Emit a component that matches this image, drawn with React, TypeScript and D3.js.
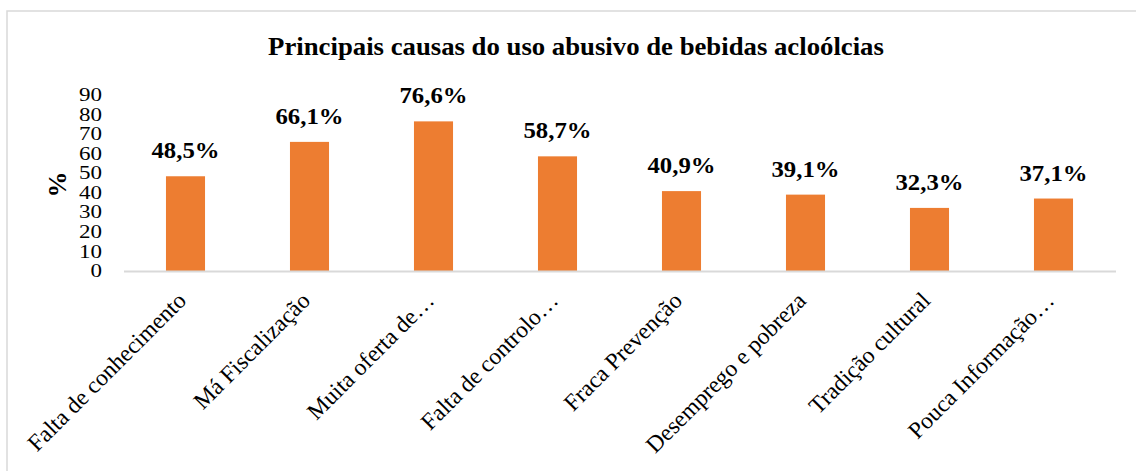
import React, { useRef, useEffect } from 'react';
import * as d3 from 'd3';

// categorias e valores (%)
const categories = [
    'Falta de conhecimento',
    'Má Fiscalização',
    'Muita oferta de…',
    'Falta de controlo…',
    'Fraca Prevenção',
    'Desemprego e pobreza',
    'Tradição cultural',
    'Pouca Informação…',
];
const values = [48.5, 66.1, 76.6, 58.7, 40.9, 39.1, 32.3, 37.1];
const valueLabels = ['48,5%', '66,1%', '76,6%', '58,7%', '40,9%', '39,1%', '32,3%', '37,1%'];
const yTicks = [0, 10, 20, 30, 40, 50, 60, 70, 80, 90];

const title = 'Principais causas do uso abusivo de bebidas acloólcias';
const yTitle = '%';

const W = 1136;
const H = 471;
const serif = '"Liberation Serif", "Times New Roman", serif';

const App: React.FC = () => {
    const ref = useRef<SVGSVGElement>(null);

    useEffect(() => {
        if (!ref.current) return;
        const svg = d3.select(ref.current);
        svg.selectAll('*').remove();

        const margin = { left: 123.5, right: 1115.5, top: 95.2, bottom: 271 };

        const x = d3.scaleBand<string>()
            .domain(categories)
            .range([margin.left, margin.right])
            .padding(0);

        const y = d3.scaleLinear()
            .domain([0, 90])
            .range([margin.bottom, margin.top]);

        const barW = x.bandwidth() * 0.315;
        const cx = (i: number) => x(categories[i])! + x.bandwidth() / 2;

        // moldura
        svg.append('rect')
            .attr('x', 7).attr('y', 11)
            .attr('width', 1140).attr('height', 470)
            .attr('fill', '#fff')
            .attr('stroke', '#d9d9d9')
            .attr('stroke-width', 1.5);

        // o texto do original está um pouco esticado na horizontal
        svg.append('text')
            .attr('transform', 'translate(576,55) scale(1.07,1)')
            .attr('text-anchor', 'middle')
            .attr('font-family', serif)
            .attr('font-weight', 'bold')
            .attr('font-size', 25)
            .text(title);

        // rótulos do eixo y
        svg.append('g').selectAll('text')
            .data(yTicks)
            .enter().append('text')
            .attr('transform', d => `translate(102,${y(d)}) scale(1.28,1)`)
            .attr('text-anchor', 'end')
            .attr('dominant-baseline', 'central')
            .attr('font-family', serif)
            .attr('font-size', 18)
            .text(d => d);

        svg.append('text')
            .attr('transform', 'translate(65.5,184.5) rotate(-90)')
            .attr('text-anchor', 'middle')
            .attr('font-family', serif)
            .attr('font-weight', 'bold')
            .attr('font-size', 26)
            .text(yTitle);

        // barras
        svg.append('g').selectAll('rect')
            .data(values)
            .enter().append('rect')
            .attr('x', (d, i) => cx(i) - barW / 2)
            .attr('y', d => y(d))
            .attr('width', barW)
            .attr('height', d => y(0) - y(d))
            .attr('fill', '#ED7D31');

        svg.append('g').selectAll('text')
            .data(values)
            .enter().append('text')
            .attr('transform', (d, i) => `translate(${cx(i)},${y(d) - 18}) scale(1.1,1)`)
            .attr('text-anchor', 'middle')
            .attr('font-family', serif)
            .attr('font-weight', 'bold')
            .attr('font-size', 22.5)
            .text((d, i) => valueLabels[i]);

        // eixo x
        const xAxis = svg.append('g').attr('transform', `translate(0,${y(0)})`)
            .call(d3.axisBottom(x).tickSize(0).tickPadding(0));
        xAxis.select('.domain')
            .attr('stroke', '#d9d9d9')
            .attr('stroke-width', 2);
        xAxis.selectAll('.tick text')
            .attr('font-family', serif)
            .attr('font-size', 23.5)
            .attr('fill', '#000')
            .attr('text-anchor', 'end')
            .attr('dy', null)
            .attr('y', null)
            .attr('transform', 'translate(2,31) rotate(-45)');
    }, []);

    return (
        <svg ref={ref} width={W} height={H}
            style={{ position: 'absolute', left: 0, top: 0, display: 'block' }} />
    );
};

export default App;
